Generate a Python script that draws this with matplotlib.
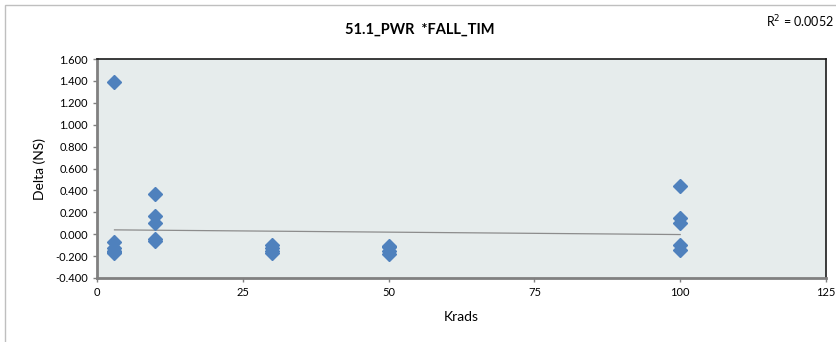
import matplotlib
matplotlib.use("Agg")
import matplotlib.pyplot as plt
from matplotlib.patches import Rectangle
from matplotlib.ticker import FormatStrFormatter
import numpy as np

plt.rcParams["font.family"] = ["Lato", "DejaVu Sans"]

# dose levels and measured fall-time deltas (some readings overlap)
krads = [3, 3, 3, 3, 3, 3,
         10, 10, 10, 10, 10,
         30, 30, 30, 30,
         50, 50, 50, 50,
         100, 100, 100, 100, 100]
delta_ns = [1.39, -0.07, -0.13, -0.15, -0.16, -0.17,
            0.37, 0.17, 0.10, -0.04, -0.06,
            -0.10, -0.13, -0.15, -0.17,
            -0.11, -0.12, -0.15, -0.18,
            0.44, 0.15, 0.10, -0.10, -0.14]

title = "51.1_PWR  *FALL_TIM"
r2_label = "R$^2$ = 0.0052"
x_ticks = [0, 25, 50, 75, 100, 125]
y_ticks = np.arange(-0.4, 1.61, 0.2)

x = np.array(krads, dtype=float)
y = np.array(delta_ns)
slope, intercept = np.polyfit(x, y, 1)
x_fit = np.array([x.min(), x.max()])

fig = plt.figure(figsize=(8.36, 3.42), dpi=100)
ax = fig.add_axes([97 / 836, 1 - 278 / 342, (826 - 97) / 836, (278 - 59) / 342])
ax.set_facecolor("#E6ECEC")

ax.plot(x_fit, slope * x_fit + intercept, color="#8C8C8C", lw=0.9, zorder=2)
ax.plot(x, y, ls="none", marker="D", ms=7, color="#4F81BD",
        markeredgecolor="#4F81BD", zorder=3)

ax.set_xlim(0, 125)
ax.set_ylim(-0.4, 1.6)
ax.set_xticks(x_ticks)
ax.set_yticks(y_ticks)
ax.yaxis.set_major_formatter(FormatStrFormatter("%.3f"))
ax.tick_params(axis="both", labelsize=8, direction="out", length=3,
               color="#808080", width=1)

for side in ("left", "bottom"):
    ax.spines[side].set_color("#808080")
    ax.spines[side].set_linewidth(2)
for side in ("top", "right"):
    ax.spines[side].set_color("#1A1A1A")
    ax.spines[side].set_linewidth(1.2)

ax.set_xlabel("Krads", fontsize=10, labelpad=9)
ax.set_ylabel("Delta (NS)", fontsize=10, labelpad=7)

fig.text(420 / 836, 1 - 30 / 342, title, ha="center", va="center",
         fontsize=10.5, fontweight="bold")
fig.text(766 / 836, 1 - 22 / 342, r2_label, ha="left", va="center", fontsize=9)

# chart area border
fig.patches.append(Rectangle((5 / 836, -0.1), 1.2, 1 - 5 / 342 + 0.1,
                             transform=fig.transFigure, fill=False,
                             edgecolor="#BFBFBF", lw=1))

fig.savefig("out.png", dpi=100)
